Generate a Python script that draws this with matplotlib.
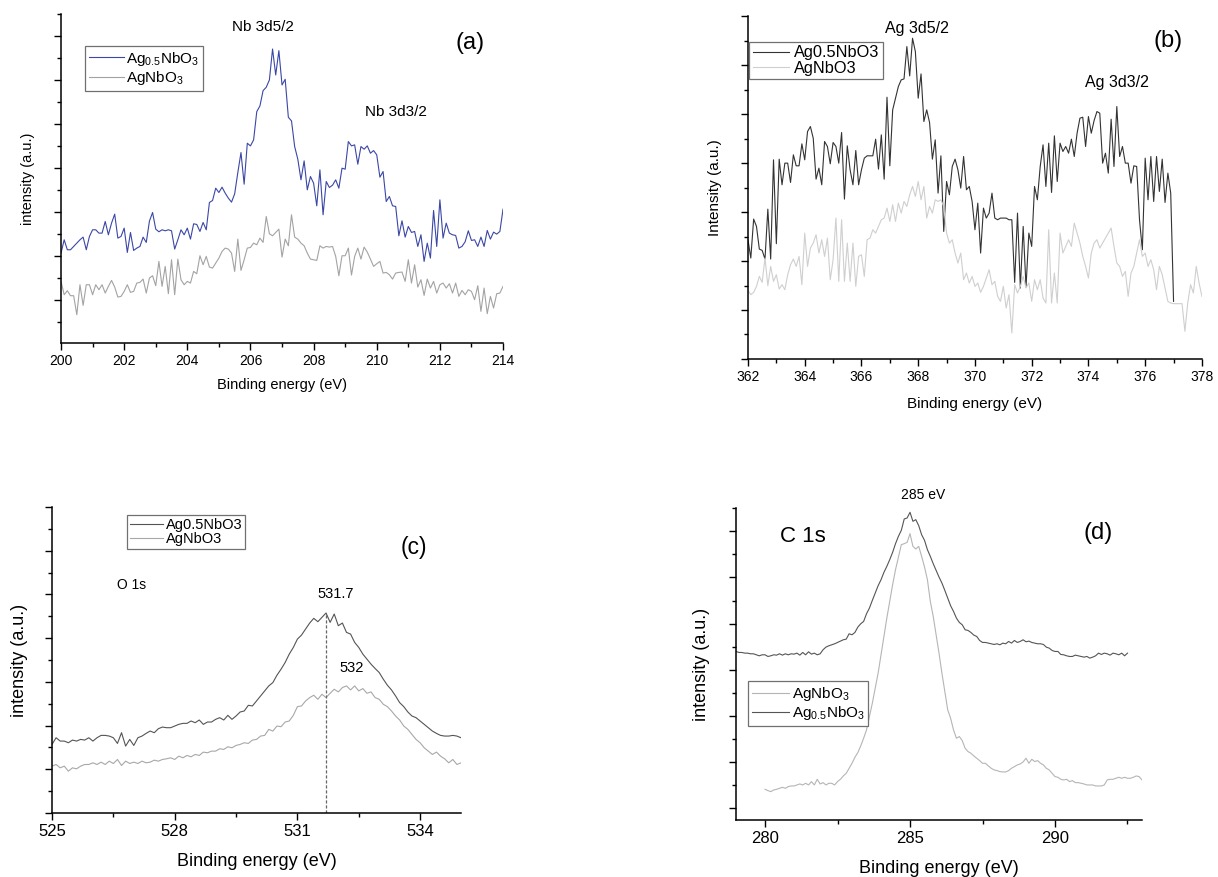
import matplotlib
matplotlib.use("Agg")
import matplotlib.pyplot as plt
from matplotlib.ticker import MultipleLocator, FixedLocator
import numpy as np

plt.rcParams['font.family'] = ['Liberation Sans', 'DejaVu Sans']
plt.rcParams['mathtext.fontset'] = 'custom'
plt.rcParams['mathtext.rm'] = 'Liberation Sans'
plt.rcParams['mathtext.it'] = 'Liberation Sans'
plt.rcParams['mathtext.default'] = 'rm'

# ---- data (intensities in arbitrary units) ----
# (a) Nb 3d, 200.0 .. 214.0 eV, 0.1 eV step
a_start = 200.0
a_ag05 = [270, 310, 280, 280, 290, 300, 310, 318, 280, 320,
          340, 340, 330, 330, 365, 325, 360, 387, 315, 320,
          345, 272, 332, 278, 285, 290, 318, 302, 366, 392,
          342, 334, 340, 337, 340, 337, 282, 310, 340, 325,
          345, 312, 358, 356, 335, 362, 340, 422, 428, 465,
          452, 468, 450, 435, 423, 448, 512, 572, 477, 600,
          592, 610, 695, 712, 758, 768, 790, 883, 805, 878,
          775, 792, 678, 667, 590, 552, 490, 547, 460, 500,
          480, 412, 520, 385, 485, 467, 474, 490, 465, 525,
          522, 605, 592, 595, 537, 590, 582, 592, 570, 578,
          565, 498, 515, 425, 440, 412, 410, 322, 367, 318,
          350, 332, 335, 290, 325, 245, 300, 255, 398, 290,
          430, 315, 360, 330, 325, 323, 285, 290, 304, 337,
          308, 310, 290, 318, 290, 338, 312, 333, 327, 335, 402]
a_ag = [185, 145, 157, 142, 142, 85, 175, 113, 175, 175,
        145, 175, 160, 175, 150, 170, 188, 168, 138, 140,
        155, 175, 152, 155, 180, 182, 192, 150, 195, 202,
        172, 245, 170, 230, 148, 250, 145, 252, 190, 175,
        185, 180, 215, 208, 262, 235, 260, 228, 225, 240,
        255, 275, 285, 282, 270, 215, 312, 218, 250, 285,
        287, 300, 295, 315, 302, 380, 328, 322, 332, 342,
        258, 312, 292, 385, 318, 312, 300, 292, 270, 252,
        250, 248, 292, 285, 290, 288, 290, 260, 202, 262,
        262, 285, 204, 260, 285, 252, 288, 273, 252, 230,
        238, 245, 210, 212, 205, 192, 210, 212, 213, 185,
        250, 180, 235, 168, 190, 143, 192, 165, 185, 150,
        175, 180, 165, 178, 150, 180, 140, 158, 145, 160,
        155, 130, 172, 95, 165, 88, 140, 105, 148, 150, 170]

# (b) Ag 3d, 0.1 eV step from 362.0 eV
b_start = 362.0
b_ag05 = [358, 303, 420, 398, 330, 326, 300, 450, 300, 598,
          346, 600, 523, 588, 588, 530, 613, 580, 580, 646,
          598, 683, 698, 663, 540, 573, 523, 653, 638, 586,
          650, 638, 588, 680, 480, 640, 568, 523, 626, 523,
          568, 603, 610, 610, 610, 660, 570, 673, 540, 786,
          580, 748, 783, 818, 838, 841, 938, 850, 963, 923,
          783, 856, 713, 748, 710, 600, 658, 498, 610, 383,
          533, 493, 578, 600, 568, 513, 608, 508, 518, 473,
          388, 468, 318, 453, 423, 438, 498, 423, 418, 423,
          423, 423, 418, 418, 230, 438, 213, 398, 216, 378,
          338, 518, 478, 578, 643, 518, 648, 500, 670, 533,
          648, 623, 638, 618, 660, 608, 678, 723, 726, 638,
          728, 678, 716, 743, 738, 588, 618, 558, 720, 578,
          758, 608, 638, 588, 588, 528, 580, 578, 418, 328,
          603, 478, 608, 473, 608, 503, 600, 470, 558, 498, 173]
b_ag = [206, 193, 200, 218, 248, 230, 303, 220, 278, 233,
        253, 210, 223, 208, 253, 283, 300, 278, 308, 223,
        378, 278, 333, 348, 373, 318, 358, 308, 363, 238,
        298, 423, 233, 418, 233, 348, 233, 348, 218, 308,
        313, 248, 358, 363, 388, 378, 398, 418, 423, 453,
        413, 463, 413, 468, 438, 473, 458, 493, 518, 488,
        533, 478, 518, 423, 458, 438, 478, 473, 478, 458,
        378, 348, 358, 318, 288, 318, 238, 258, 228, 248,
        218, 228, 200, 218, 243, 268, 223, 233, 188, 173,
        218, 153, 193, 78, 223, 198, 218, 248, 213, 228,
        173, 238, 208, 238, 183, 168, 388, 168, 258, 168,
        378, 318, 338, 358, 338, 408, 378, 348, 308, 278,
        243, 318, 348, 358, 333, 348, 363, 378, 393, 338,
        288, 278, 248, 263, 188, 258, 278, 318, 358, 308,
        318, 278, 298, 268, 208, 278, 253, 213, 173, 168,
        166, 166, 166, 166, 83, 168, 223, 198, 278, 228, 188]

# (c) O 1s, 525.0 .. 535.0 eV
c_start = 525.0
c_ag05 = [205, 225, 215, 215, 210, 218, 215, 220, 218, 225,
          215, 225, 232, 232, 230, 225, 208, 240, 200, 220,
          202, 225, 230, 238, 245, 240, 252, 257, 255, 255,
          260, 265, 268, 268, 275, 270, 278, 265, 272, 272,
          280, 285, 278, 292, 280, 290, 302, 305, 322, 320,
          335, 350, 365, 380, 390, 412, 430, 450, 475, 495,
          520, 532, 550, 568, 582, 572, 585, 598, 570, 595,
          560, 568, 540, 535, 510, 495, 475, 460, 445, 432,
          420, 400, 382, 368, 350, 330, 318, 302, 290, 285,
          275, 265, 255, 245, 238, 232, 230, 230, 232, 230, 225]
c_ag = [140, 145, 135, 140, 125, 135, 132, 140, 145, 145,
        150, 145, 152, 145, 155, 148, 160, 142, 155, 148,
        152, 148, 155, 150, 152, 158, 155, 160, 162, 165,
        160, 170, 165, 172, 168, 175, 172, 182, 180, 185,
        185, 192, 190, 198, 195, 202, 205, 210, 208, 218,
        220, 230, 232, 250, 245, 260, 258, 272, 275, 292,
        318, 320, 335, 345, 352, 340, 355, 345, 358, 370,
        362, 375, 380, 368, 380, 365, 372, 358, 362, 345,
        340, 325, 318, 305, 290, 278, 260, 250, 235, 220,
        210, 195, 185, 175, 182, 170, 162, 150, 160, 145, 150]
c_peak = 531.7
c_peak_height = 598

# (d) C 1s
d_start_ag05 = 279.0
d_ag05 = [505, 502, 502, 500, 500, 498, 498, 495, 492, 495,
          495, 490, 492, 495, 494, 498, 494, 498, 495, 498,
          497, 500, 494, 502, 495, 504, 497, 500, 495, 498,
          510, 518, 522, 525, 528, 532, 536, 540, 542, 558,
          555, 562, 578, 588, 595, 618, 635, 658, 680, 702,
          720, 742, 760, 780, 802, 828, 850, 868, 902, 905,
          922, 895, 900, 882, 855, 838, 810, 790, 768, 748,
          728, 710, 688, 665, 642, 625, 605, 592, 585, 570,
          568, 562, 554, 550, 538, 532, 532, 530, 528, 526,
          528, 525, 530, 528, 535, 530, 538, 532, 535, 540,
          534, 536, 532, 530, 528, 528, 526, 518, 515, 508,
          505, 505, 496, 495, 492, 490, 490, 494, 492, 490,
          488, 490, 485, 488, 492, 500, 496, 500, 498, 494,
          500, 498, 495, 500, 492, 500]
d_start_ag = 280.0
d_ag = [92, 88, 85, 90, 92, 95, 98, 95, 100, 102,
        102, 105, 108, 105, 110, 105, 115, 105, 122, 108,
        112, 105, 110, 110, 105, 115, 122, 132, 140, 155,
        170, 188, 202, 222, 245, 270, 310, 350, 395, 440,
        495, 550, 605, 655, 705, 750, 788, 825, 828, 832,
        858, 820, 812, 820, 790, 758, 720, 655, 610, 555,
        500, 440, 385, 330, 305, 270, 245, 250, 238, 215,
        205, 200, 192, 185, 178, 170, 170, 162, 155, 150,
        148, 145, 144, 144, 148, 155, 160, 165, 168, 174,
        185, 170, 182, 175, 178, 170, 165, 155, 150, 140,
        130, 128, 122, 120, 122, 115, 118, 112, 112, 110,
        108, 105, 105, 105, 102, 102, 102, 105, 120, 122,
        122, 125, 128, 125, 128, 125, 125, 128, 132, 130, 120]

step = 0.1


def energies(start, vals):
    return start + step * np.arange(len(vals))


def style(ax, fs):
    for s in ('top', 'right'):
        ax.spines[s].set_visible(False)
    for s in ('left', 'bottom'):
        ax.spines[s].set_linewidth(1.1)
    ax.tick_params(which='major', direction='out', length=5, width=1, labelsize=fs, pad=3)
    ax.tick_params(which='minor', direction='out', length=3, width=1)
    ax.tick_params(axis='y', which='both', labelleft=False)


def boxed(leg):
    leg.get_frame().set_edgecolor('#707070')
    leg.get_frame().set_linewidth(0.9)


fig = plt.figure(figsize=(12.18, 8.77), dpi=100)

# ---------- (a) ----------
ax = fig.add_axes([0.0501, 0.6089, 0.3629, 0.3751])
ax.plot(energies(a_start, a_ag05), a_ag05, color='#3b47a6', lw=0.8, label=r'Ag$_{0.5}$NbO$_3$')
ax.plot(energies(a_start, a_ag), a_ag, color='#a3a3a3', lw=0.8, label=r'AgNbO$_3$')
ax.set_xlim(200, 214)
ax.set_ylim(0, 988)
ax.xaxis.set_major_locator(MultipleLocator(2))
ax.xaxis.set_minor_locator(MultipleLocator(1))
ax.yaxis.set_major_locator(FixedLocator(np.arange(130, 990, 132)))
ax.yaxis.set_minor_locator(FixedLocator(np.arange(64, 990, 132)))
style(ax, 10)
ax.set_xlabel('Binding energy (eV)', fontsize=10.5, labelpad=7)
ax.set_ylabel('intensity (a.u.)', fontsize=10.5, labelpad=14)
ax.text(206.4, 950, 'Nb 3d5/2', fontsize=11, ha='center', va='center')
ax.text(210.6, 695, 'Nb 3d3/2', fontsize=11, ha='center', va='center')
ax.text(212.95, 900, '(a)', fontsize=17, ha='center', va='center')
boxed(ax.legend(loc='upper left', bbox_to_anchor=(0.054, 0.903), borderaxespad=0,
                fontsize=11, fancybox=False, handlelength=2.3, handletextpad=0.15,
                borderpad=0.25, labelspacing=0.1, framealpha=1))

# ---------- (b) ----------
ax = fig.add_axes([0.6141, 0.5907, 0.3727, 0.3911])
ax.plot(energies(b_start, b_ag05), b_ag05, color='#333333', lw=0.8, label='Ag0.5NbO3')
ax.plot(energies(b_start, b_ag), b_ag, color='#cfcfcf', lw=0.8, label='AgNbO3')
ax.set_xlim(362, 378)
ax.set_ylim(0, 1030)
ax.xaxis.set_major_locator(MultipleLocator(2))
ax.xaxis.set_minor_locator(MultipleLocator(1))
ax.yaxis.set_major_locator(MultipleLocator(147))
ax.yaxis.set_minor_locator(MultipleLocator(73.5))
style(ax, 10)
ax.set_xlabel('Binding energy (eV)', fontsize=11, labelpad=9)
ax.set_ylabel('Intensity (a.u.)', fontsize=11, labelpad=14)
ax.text(367.95, 993, 'Ag 3d5/2', fontsize=11.5, ha='center', va='center')
ax.text(375.0, 830, 'Ag 3d3/2', fontsize=11.5, ha='center', va='center')
ax.text(376.8, 956, '(b)', fontsize=17, ha='center', va='center')
boxed(ax.legend(loc='upper left', bbox_to_anchor=(0.003, 0.924), borderaxespad=0,
                fontsize=11.8, fancybox=False, handlelength=2.25, handletextpad=0.3,
                borderpad=0.2, labelspacing=0.05, framealpha=1))

# ---------- (c) ----------
ax = fig.add_axes([0.0427, 0.0730, 0.3358, 0.3489])
ax.plot(energies(c_start, c_ag05), c_ag05, color='#555555', lw=0.8, label='Ag0.5NbO3')
ax.plot(energies(c_start, c_ag), c_ag, color='#a8a8a8', lw=0.8, label='AgNbO3')
ax.vlines(c_peak, 0, c_peak_height, colors='#666666', linestyles=(0, (2.5, 1.5)), lw=0.9)
ax.set_xlim(525, 535)
ax.set_ylim(0, 915)
ax.xaxis.set_major_locator(MultipleLocator(3))
ax.xaxis.set_minor_locator(MultipleLocator(1.5))
ax.yaxis.set_major_locator(MultipleLocator(130.7))
ax.yaxis.set_minor_locator(MultipleLocator(65.35))
style(ax, 12)
ax.set_xlabel('Binding energy (eV)', fontsize=13, labelpad=10)
ax.set_ylabel('intensity (a.u.)', fontsize=13, labelpad=12)
ax.text(531.93, 655, '531.7', fontsize=10.5, ha='center', va='center')
ax.text(532.32, 435, '532', fontsize=10.5, ha='center', va='center')
ax.text(526.95, 682, 'O 1s', fontsize=10, ha='center', va='center')
ax.text(533.84, 795, '(c)', fontsize=16.5, ha='center', va='center')
boxed(ax.legend(loc='upper left', bbox_to_anchor=(0.183, 0.974), borderaxespad=0,
                fontsize=10.5, fancybox=False, handlelength=2.3, handletextpad=0.15,
                borderpad=0.2, labelspacing=0.0, framealpha=1))

# ---------- (d) ----------
ax = fig.add_axes([0.6043, 0.0650, 0.3333, 0.3558])
ax.plot(energies(d_start_ag, d_ag), d_ag, color='#b5b5b5', lw=0.8, label=r'AgNbO$_3$')
ax.plot(energies(d_start_ag05, d_ag05), d_ag05, color='#555555', lw=0.8, label=r'Ag$_{0.5}$NbO$_3$')
ax.set_xlim(279, 293)
ax.set_ylim(0, 935)
ax.xaxis.set_major_locator(MultipleLocator(5))
ax.xaxis.set_minor_locator(MultipleLocator(2.5))
ax.yaxis.set_major_locator(FixedLocator(np.arange(35, 936, 138.4)))
ax.yaxis.set_minor_locator(FixedLocator(np.arange(104, 936, 138.4)))
style(ax, 12)
ax.set_xlabel('Binding energy (eV)', fontsize=13, labelpad=10)
ax.set_ylabel('intensity (a.u.)', fontsize=13, labelpad=14)
ax.text(285.44, 975, '285 eV', fontsize=10, ha='center', va='center', clip_on=False)
ax.text(281.32, 850, 'C 1s', fontsize=16, ha='center', va='center')
ax.text(291.49, 860, '(d)', fontsize=17, ha='center', va='center')
boxed(ax.legend(loc='upper left', bbox_to_anchor=(0.030, 0.445), borderaxespad=0,
                fontsize=11, fancybox=False, handlelength=2.4, handletextpad=0.2,
                borderpad=0.25, labelspacing=0.1, framealpha=1))

fig.savefig('out.png', dpi=100)
